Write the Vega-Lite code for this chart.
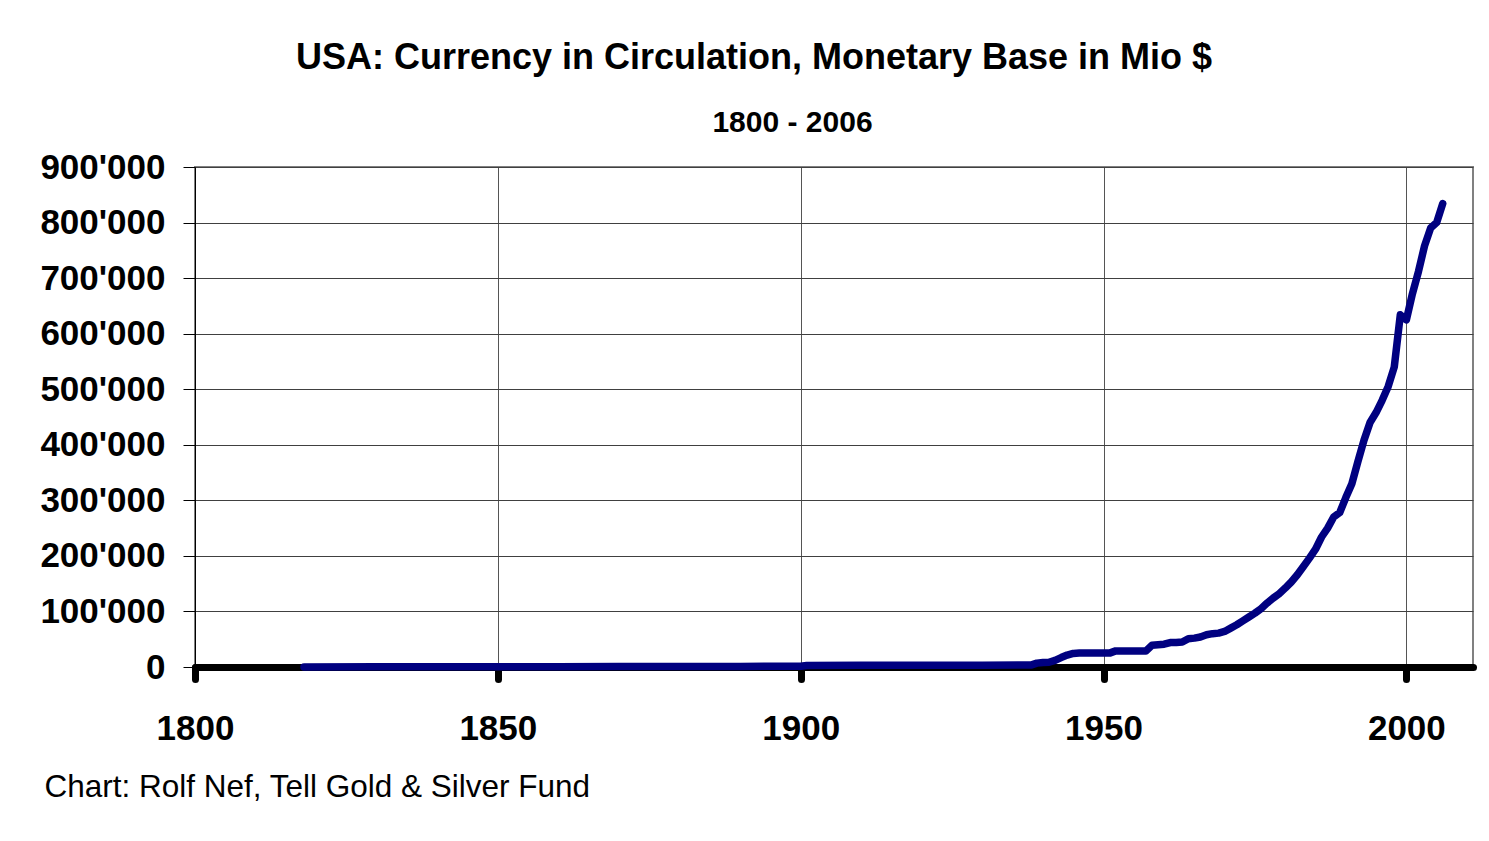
{
  "$schema": "https://vega.github.io/schema/vega-lite/v6.json",
  "width": 1278,
  "height": 500,
  "autosize": {"type": "none"},
  "padding": {"left": 195, "top": 167, "right": 16, "bottom": 174},
  "background": "white",
  "title": {
    "text": "USA: Currency in Circulation, Monetary Base in Mio $",
    "anchor": "middle",
    "frame": "group",
    "dx": -80,
    "font": "Liberation Sans",
    "fontSize": 36,
    "fontWeight": "bold",
    "color": "black",
    "offset": 30
  },
  "data": {
    "values": [
      {"year": 1818, "value": 200},
      {"year": 1830, "value": 300},
      {"year": 1840, "value": 300},
      {"year": 1850, "value": 400},
      {"year": 1860, "value": 500},
      {"year": 1870, "value": 700},
      {"year": 1880, "value": 900},
      {"year": 1890, "value": 1100},
      {"year": 1900, "value": 1300},
      {"year": 1901, "value": 2800},
      {"year": 1910, "value": 3000},
      {"year": 1920, "value": 3300},
      {"year": 1930, "value": 3100},
      {"year": 1938, "value": 3500},
      {"year": 1939, "value": 7000},
      {"year": 1940, "value": 8000},
      {"year": 1941, "value": 8500},
      {"year": 1942, "value": 12000},
      {"year": 1943, "value": 17000},
      {"year": 1944, "value": 21500},
      {"year": 1945, "value": 24500},
      {"year": 1946, "value": 25000},
      {"year": 1947, "value": 25000},
      {"year": 1948, "value": 25000},
      {"year": 1949, "value": 25000},
      {"year": 1950, "value": 25000},
      {"year": 1951, "value": 25000},
      {"year": 1952, "value": 29000},
      {"year": 1953, "value": 29000},
      {"year": 1954, "value": 29000},
      {"year": 1955, "value": 29000},
      {"year": 1956, "value": 29000},
      {"year": 1957, "value": 29000},
      {"year": 1958, "value": 39000},
      {"year": 1959, "value": 40000},
      {"year": 1960, "value": 41000},
      {"year": 1961, "value": 44000},
      {"year": 1962, "value": 44000},
      {"year": 1963, "value": 45000},
      {"year": 1964, "value": 51000},
      {"year": 1965, "value": 52000},
      {"year": 1966, "value": 54000},
      {"year": 1967, "value": 58000},
      {"year": 1968, "value": 60000},
      {"year": 1969, "value": 61000},
      {"year": 1970, "value": 64000},
      {"year": 1971, "value": 70000},
      {"year": 1972, "value": 76000},
      {"year": 1973, "value": 83000},
      {"year": 1974, "value": 90000},
      {"year": 1975, "value": 97000},
      {"year": 1976, "value": 105000},
      {"year": 1977, "value": 115000},
      {"year": 1978, "value": 124000},
      {"year": 1979, "value": 132000},
      {"year": 1980, "value": 142000},
      {"year": 1981, "value": 153000},
      {"year": 1982, "value": 166000},
      {"year": 1983, "value": 181000},
      {"year": 1984, "value": 196000},
      {"year": 1985, "value": 212000},
      {"year": 1986, "value": 234000},
      {"year": 1987, "value": 250000},
      {"year": 1988, "value": 270000},
      {"year": 1989, "value": 278000},
      {"year": 1990, "value": 305000},
      {"year": 1991, "value": 330000},
      {"year": 1992, "value": 370000},
      {"year": 1993, "value": 408000},
      {"year": 1994, "value": 440000},
      {"year": 1995, "value": 458000},
      {"year": 1996, "value": 480000},
      {"year": 1997, "value": 505000},
      {"year": 1998, "value": 540000},
      {"year": 1999, "value": 634000},
      {"year": 2000, "value": 625000},
      {"year": 2001, "value": 672000},
      {"year": 2002, "value": 712000},
      {"year": 2003, "value": 758000},
      {"year": 2004, "value": 790000},
      {"year": 2005, "value": 800000},
      {"year": 2006, "value": 834000}
    ]
  },
  "mark": {"type": "line", "color": "#000080", "strokeWidth": 7.5, "strokeCap": "round", "strokeJoin": "round"},
  "encoding": {
    "x": {
      "field": "year",
      "type": "quantitative",
      "scale": {"domain": [1800, 2011], "nice": false, "zero": false},
      "axis": {
        "values": [1800, 1850, 1900, 1950, 2000],
        "format": "d",
        "domainColor": "black",
        "domainWidth": 7,
        "domainCap": "round",
        "tickColor": "black",
        "tickWidth": 7,
        "tickSize": 12,
        "tickCap": "round",
        "grid": true,
        "gridColor": "#555555",
        "gridWidth": 1,
        "labelFont": "Liberation Sans",
        "labelFontSize": 35,
        "labelFontWeight": "bold",
        "labelColor": "black",
        "labelPadding": 32,
        "labelFlush": false,
        "labelOverlap": false,
        "title": "Chart: Rolf Nef, Tell Gold & Silver Fund",
        "titleFont": "Liberation Sans",
        "titleFontSize": 31.5,
        "titleFontWeight": "normal",
        "titleColor": "black",
        "titleAnchor": "start",
        "titleAlign": "left",
        "titleBaseline": "alphabetic",
        "titleX": -151,
        "titleY": 129,
        "zindex": 0
      }
    },
    "y": {
      "field": "value",
      "type": "quantitative",
      "scale": {"domain": [0, 900000], "nice": false},
      "axis": {
        "values": [0, 100000, 200000, 300000, 400000, 500000, 600000, 700000, 800000, 900000],
        "labelExpr": "replace(format(datum.value, ',.0f'), ',', \"'\")",
        "domainColor": "black",
        "domainWidth": 1,
        "tickColor": "black",
        "tickWidth": 1,
        "tickSize": 12,
        "grid": true,
        "gridColor": "#404040",
        "gridWidth": 1,
        "labelFont": "Liberation Sans",
        "labelFontSize": 35,
        "labelFontWeight": "bold",
        "labelColor": "black",
        "labelPadding": 18,
        "labelFlush": false,
        "labelOverlap": false,
        "title": "1800 - 2006",
        "titleFont": "Liberation Sans",
        "titleFontSize": 30,
        "titleFontWeight": "bold",
        "titleColor": "black",
        "titleAngle": 0,
        "titleAlign": "center",
        "titleBaseline": "alphabetic",
        "titleX": 597,
        "titleY": -36,
        "zindex": 0
      }
    }
  },
  "config": {
    "view": {"stroke": "#808080", "strokeWidth": 2}
  }
}
